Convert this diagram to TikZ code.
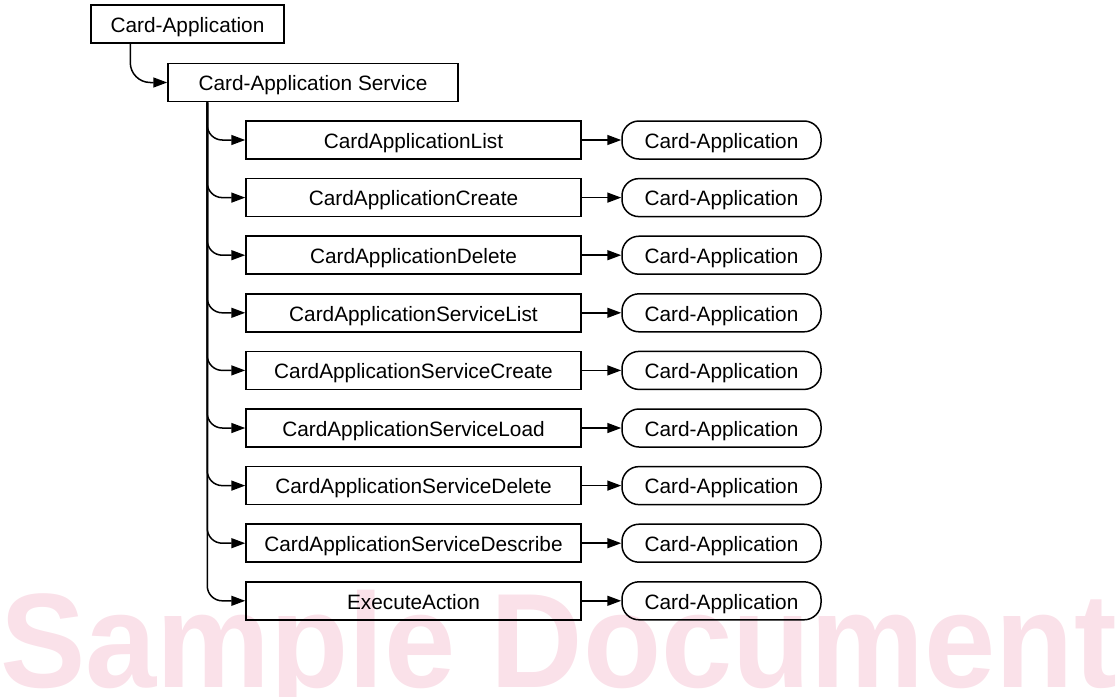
\documentclass[tikz,border=0pt]{standalone}
\usepackage{fontspec}
\setmainfont{Liberation Sans}
\usetikzlibrary{arrows.meta}
\definecolor{wmpink}{RGB}{250,225,233}
\tikzset{
  box/.style={draw, line width=1.5pt, inner sep=0pt, minimum height=38pt,
    text height=16.5pt, text depth=0pt, font=\fontsize{20.8}{24}\selectfont},
  pill/.style={box, rounded corners=17pt, minimum width=199pt},
  link/.style={line width=1.5pt, -{Triangle[length=14pt,width=10pt]}},
}
\begin{document}
\begin{tikzpicture}[x=1pt,y=-1pt]
\useasboundingbox (0,0) rectangle (1118,696);
% watermark behind the diagram
\node[anchor=base west, inner sep=0pt, text=wmpink, yscale=1.05,
      font=\fontsize{128}{128}\selectfont\bfseries] (wm) at (0,687) {Sample Document};
% root and service
\node[box, minimum width=193pt] (app) at (187.5,24) {Card-Application};
\node[box, minimum width=290pt] (svc) at (313,82.5) {Card-Application Service};
\draw[link, rounded corners=20pt] ([xshift=40pt]app.south west) |- (svc);
% operations and their results
\foreach \i/\t in {1/CardApplicationList,2/CardApplicationCreate,3/CardApplicationDelete,
  4/CardApplicationServiceList,5/CardApplicationServiceCreate,6/CardApplicationServiceLoad,
  7/CardApplicationServiceDelete,8/CardApplicationServiceDescribe,9/ExecuteAction} {
  \node[box, minimum width=335pt] (op\i) at (413.5,{140+57.6*(\i-1)}) {\t};
  \node[pill] (res\i) at (721.5,{140+57.6*(\i-1)}) {Card-Application};
  \draw[link] (op\i) -- (res\i);
  \draw[link, rounded corners=15pt] ([xshift=40pt]svc.south west) |- (op\i);
}
\end{tikzpicture}
\end{document}
